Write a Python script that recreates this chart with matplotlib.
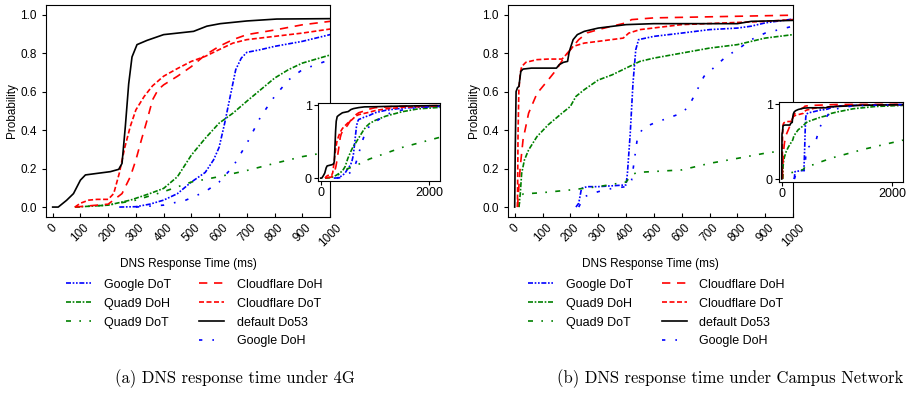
import numpy as np
import matplotlib
matplotlib.use('Agg')
import matplotlib.pyplot as plt
from matplotlib.lines import Line2D

plt.rcParams['font.family'] = ['Liberation Sans', 'DejaVu Sans']

# ---------------- 4G ----------------
g4_do53_x = [0, 20, 50, 75, 100, 118, 160, 208, 238, 250, 262, 274, 286, 304, 340, 400, 508, 556, 604, 700, 808, 1000, 1300, 1700, 2200]
g4_do53_y = [0, 0, 0.035, 0.07, 0.14, 0.167, 0.175, 0.184, 0.196, 0.227, 0.42, 0.64, 0.78, 0.844, 0.866, 0.896, 0.913, 0.94, 0.953, 0.967, 0.977, 0.979, 0.985, 0.99, 0.995]

g4_cf_doh_x = [80, 200, 250, 280, 300, 320, 340, 360, 380, 400, 450, 500, 550, 600, 650, 700, 800, 900, 1000, 1300, 1700, 2200]
g4_cf_doh_y = [0, 0.015, 0.07, 0.158, 0.245, 0.35, 0.45, 0.557, 0.61, 0.635, 0.68, 0.73, 0.79, 0.835, 0.87, 0.896, 0.92, 0.947, 0.965, 0.98, 0.99, 0.995]

g4_cf_dot_x = [80, 100, 130, 160, 200, 220, 240, 260, 280, 300, 330, 360, 400, 450, 500, 550, 600, 650, 700, 800, 900, 1000, 1200, 1500, 2200]
g4_cf_dot_y = [0, 0.02, 0.036, 0.04, 0.04, 0.07, 0.175, 0.31, 0.42, 0.505, 0.575, 0.63, 0.68, 0.72, 0.757, 0.783, 0.818, 0.852, 0.87, 0.887, 0.904, 0.925, 0.95, 0.97, 0.99]

g4_g_dot_x = [240, 300, 350, 400, 450, 500, 550, 580, 600, 620, 640, 660, 680, 700, 750, 800, 900, 1000, 1200, 1500, 2200]
g4_g_dot_y = [0, 0.002, 0.015, 0.036, 0.07, 0.13, 0.18, 0.245, 0.31, 0.435, 0.575, 0.714, 0.774, 0.804, 0.818, 0.835, 0.861, 0.896, 0.93, 0.96, 0.985]

g4_g_doh_x = [300, 400, 480, 550, 600, 650, 700, 750, 800, 850, 900, 950, 1000, 1200, 1400, 1700, 2200]
g4_g_doh_y = [0, 0.01, 0.036, 0.08, 0.13, 0.21, 0.33, 0.47, 0.575, 0.66, 0.714, 0.74, 0.766, 0.87, 0.92, 0.96, 0.985]

g4_q9_doh_x = [80, 200, 280, 350, 400, 450, 500, 550, 600, 650, 700, 750, 800, 850, 900, 1000, 1200, 1500, 1800, 2200]
g4_q9_doh_y = [0, 0.01, 0.036, 0.07, 0.097, 0.158, 0.27, 0.357, 0.436, 0.488, 0.55, 0.61, 0.67, 0.714, 0.748, 0.79, 0.85, 0.91, 0.95, 0.97]

g4_q9_dot_x = [80, 200, 300, 400, 500, 600, 700, 800, 900, 1000, 1500, 2200]
g4_q9_dot_y = [0, 0.01, 0.036, 0.08, 0.13, 0.158, 0.19, 0.227, 0.262, 0.288, 0.42, 0.56]

# ---------------- Campus ----------------
cn_do53_x = [0, 2, 5, 10, 15, 18, 22, 30, 60, 150, 160, 175, 190, 195, 200, 210, 225, 250, 300, 400, 500, 800, 850, 1000, 1400, 2200]
cn_do53_y = [0, 0.3, 0.6, 0.62, 0.627, 0.66, 0.705, 0.717, 0.722, 0.722, 0.74, 0.752, 0.757, 0.8, 0.826, 0.87, 0.896, 0.913, 0.93, 0.948, 0.953, 0.953, 0.965, 0.97, 0.985, 0.995]

cn_cf_dot_x = [10, 12, 15, 20, 25, 40, 80, 120, 170, 190, 210, 250, 300, 390, 410, 450, 600, 900, 1000, 1500, 2200]
cn_cf_dot_y = [0, 0.38, 0.61, 0.696, 0.73, 0.752, 0.766, 0.769, 0.769, 0.8, 0.835, 0.852, 0.861, 0.878, 0.904, 0.922, 0.948, 0.965, 0.974, 0.99, 0.995]

cn_cf_doh_x = [10, 15, 20, 30, 50, 80, 120, 150, 180, 200, 230, 260, 300, 350, 400, 420, 500, 1000, 2200]
cn_cf_doh_y = [0, 0.106, 0.21, 0.35, 0.488, 0.59, 0.66, 0.714, 0.783, 0.818, 0.87, 0.905, 0.922, 0.94, 0.957, 0.974, 0.983, 0.997, 1.0]

cn_q9_doh_x = [15, 20, 25, 35, 50, 80, 120, 170, 200, 220, 250, 300, 350, 400, 450, 500, 600, 700, 800, 850, 900, 1000, 1300, 1700, 2200]
cn_q9_doh_y = [0, 0.07, 0.175, 0.245, 0.297, 0.366, 0.427, 0.488, 0.523, 0.575, 0.61, 0.66, 0.687, 0.722, 0.757, 0.774, 0.8, 0.826, 0.844, 0.861, 0.878, 0.896, 0.94, 0.97, 0.985]

cn_q9_dot_x = [15, 20, 30, 100, 200, 300, 400, 420, 440, 600, 700, 800, 900, 1000, 1500, 2200]
cn_q9_dot_y = [0, 0.054, 0.068, 0.075, 0.089, 0.106, 0.13, 0.167, 0.18, 0.193, 0.227, 0.253, 0.28, 0.3, 0.4, 0.52]

cn_g_dot_x = [220, 230, 240, 260, 300, 400, 405, 415, 425, 435, 445, 500, 600, 700, 800, 850, 900, 1000, 1500, 2200]
cn_g_dot_y = [0, 0.02, 0.097, 0.106, 0.106, 0.115, 0.175, 0.38, 0.644, 0.818, 0.87, 0.887, 0.904, 0.922, 0.93, 0.94, 0.957, 0.977, 0.99, 0.995]

cn_g_doh_x = [230, 250, 300, 350, 400, 420, 430, 440, 460, 500, 550, 600, 625, 650, 680, 720, 760, 800, 850, 900, 950, 1000, 1300, 2200]
cn_g_doh_y = [0, 0.054, 0.08, 0.097, 0.106, 0.14, 0.245, 0.35, 0.41, 0.436, 0.462, 0.488, 0.523, 0.592, 0.679, 0.73, 0.783, 0.818, 0.87, 0.904, 0.922, 0.94, 0.98, 0.995]

labels = ['Google DoT', 'Quad9 DoH', 'Quad9 DoT', 'Cloudflare DoH',
          'Cloudflare DoT', 'default Do53', 'Google DoH']
colors = ['blue', 'green', 'green', 'red', 'red', 'black', 'blue']
styles = [(0, (3, 1, 1, 1, 1, 1)), (0, (3, 1, 1, 1)), (0, (3, 5, 1, 5)),
          (0, (5, 4)), (0, (3, 1.5)), '-', (0, (2, 6, 1, 6))]

series_4g = [(g4_g_dot_x, g4_g_dot_y), (g4_q9_doh_x, g4_q9_doh_y), (g4_q9_dot_x, g4_q9_dot_y),
             (g4_cf_doh_x, g4_cf_doh_y), (g4_cf_dot_x, g4_cf_dot_y), (g4_do53_x, g4_do53_y),
             (g4_g_doh_x, g4_g_doh_y)]
series_cn = [(cn_g_dot_x, cn_g_dot_y), (cn_q9_doh_x, cn_q9_doh_y), (cn_q9_dot_x, cn_q9_dot_y),
             (cn_cf_doh_x, cn_cf_doh_y), (cn_cf_dot_x, cn_cf_dot_y), (cn_do53_x, cn_do53_y),
             (cn_g_doh_x, cn_g_doh_y)]

captions = ['(a) DNS response time under 4G', '(b) DNS response time under Campus Network']

fig = plt.figure(figsize=(9.17, 3.96), dpi=100)

main_pos = [[0.0502, 0.4528, 0.3097, 0.5346], [0.554, 0.4528, 0.3108, 0.5346]]
inset_pos = [[0.3468, 0.5429, 0.1330, 0.197], [0.8495, 0.5404, 0.1352, 0.202]]
leg_anchor = [(0.072, 0.296), (0.576, 0.296)]
cap_x = [0.256, 0.796]


def draw(ax, series):
    handles = []
    for (x, y), lab, c, ls in zip(series, labels, colors, styles):
        h, = ax.plot(x, y, color=c, linestyle=ls, linewidth=1.2, label=lab)
        handles.append(h)
    return handles


for k, series in enumerate([series_4g, series_cn]):
    ax = fig.add_axes(main_pos[k])
    handles = draw(ax, series)
    ax.set_xlim(-24, 1000)
    ax.set_ylim(-0.05, 1.05)
    ax.set_xticks(np.arange(0, 1001, 100))
    ax.set_yticks(np.arange(0, 1.01, 0.2))
    ax.set_yticklabels(['0.0', '0.2', '0.4', '0.6', '0.8', '1.0'])
    ax.tick_params(axis='x', direction='in', length=3, labelsize=8.5, labelrotation=45)
    ax.tick_params(axis='y', direction='out', length=3, labelsize=8.5)
    for lab in ax.get_xticklabels():
        lab.set_ha('center')
    ax.set_ylabel('Probability', fontsize=8.5, labelpad=2)
    ax.set_xlabel('DNS Response Time (ms)', fontsize=8.5, labelpad=7)

    ins = fig.add_axes(inset_pos[k])
    draw(ins, series)
    ins.set_xlim(-50, 2200)
    ins.set_ylim(-0.04, 1.03)
    ins.set_xticks([0, 2000])
    ins.set_yticks([0, 1])
    ins.tick_params(direction='out', length=3, labelsize=9, pad=1.5)

    # blank entry so that the first column holds three rows
    blank = Line2D([], [], linestyle='none')
    order = handles[:3] + [blank] + handles[3:]
    names = labels[:3] + [''] + labels[3:]
    fig.legend(order, names, loc='upper left', bbox_to_anchor=leg_anchor[k],
               ncol=2, frameon=False, fontsize=9, handlelength=2.0,
               handletextpad=1.0, columnspacing=2.3, labelspacing=0.55,
               borderaxespad=0, borderpad=0)

    fig.text(cap_x[k], 0.045, captions[k], ha='center', va='center',
             fontsize=12, fontfamily='cmr10')

fig.savefig('out.png', dpi=100)
